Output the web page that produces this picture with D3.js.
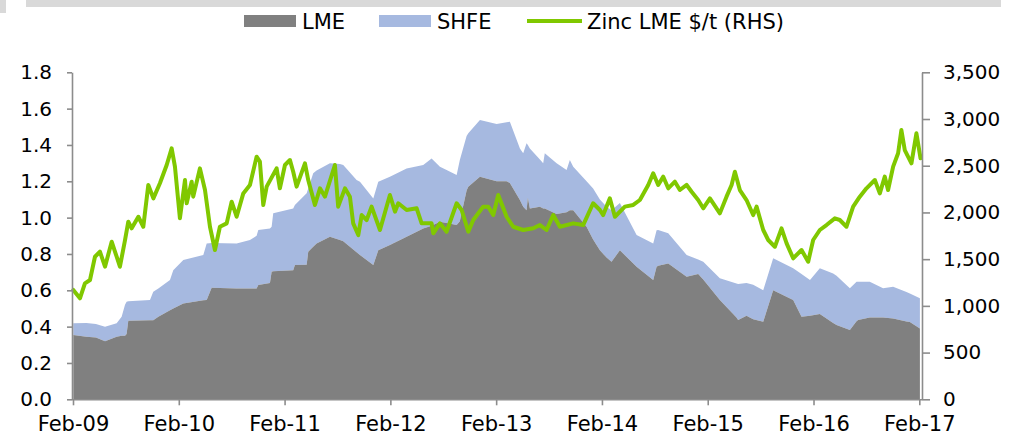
<!DOCTYPE html>
<html><head><meta charset="utf-8">
<script src="https://cdn.jsdelivr.net/npm/d3@7/dist/d3.min.js"></script>
<style>
html,body{margin:0;padding:0;background:#fff;}
svg{display:block;font-family:"DejaVu Sans",Verdana,sans-serif;}
</style></head>
<body><svg id="chart" width="1009" height="437"></svg>
<script>
// ---- data (dates as decimal years) ----
const xTickYears = [2009,2010,2011,2012,2013,2014,2015,2016,2017];
const xTickLabels = ["Feb-09","Feb-10","Feb-11","Feb-12","Feb-13","Feb-14","Feb-15","Feb-16","Feb-17"];
const leftTicks = [0,0.2,0.4,0.6,0.8,1.0,1.2,1.4,1.6,1.8];
const rightTicks = [0,500,1000,1500,2000,2500,3000,3500];
const seriesNames = ["LME","SHFE","Zinc LME $/t (RHS)"];

const areaDates = [2009.086,2009.21,2009.30,2009.386,2009.496,2009.543,2009.575,2009.59,2009.606,2009.811,
2009.842,2009.89,2010.0,2010.031,2010.126,2010.315,2010.347,2010.394,2010.63,2010.756,
2010.819,2010.835,2010.945,2010.961,2010.976,2011.165,2011.181,2011.292,2011.307,2011.354,
2011.386,2011.512,2011.607,2011.638,2011.764,2011.796,2011.922,2011.969,2012.079,2012.237,
2012.394,2012.473,2012.552,2012.615,2012.71,2012.74,2012.804,2012.82,2012.93,2013.088,
2013.182,2013.213,2013.308,2013.339,2013.371,2013.383,2013.402,2013.497,2013.528,2013.543,
2013.655,2013.749,2013.78,2013.812,2013.938,2014.0,2014.064,2014.127,2014.174,2014.253,
2014.411,2014.568,2014.6,2014.615,2014.71,2014.884,2014.993,2015.041,2015.198,2015.355,
2015.371,2015.45,2015.513,2015.608,2015.702,2015.891,2015.97,2016.05,2016.143,2016.269,
2016.301,2016.427,2016.49,2016.505,2016.615,2016.741,2016.836,2016.962,2016.994,2017.089];
const lmeRatio = [0.354,0.345,0.34,0.32,0.345,0.35,0.35,0.36,0.433,0.435,
0.435,0.455,0.49,0.50,0.528,0.545,0.546,0.614,0.61,0.61,
0.61,0.629,0.64,0.702,0.705,0.711,0.739,0.74,0.812,0.84,
0.858,0.895,0.877,0.87,0.81,0.794,0.739,0.82,0.85,0.895,
0.94,0.955,0.977,0.97,0.96,0.98,1.15,1.17,1.225,1.2,
1.2,1.19,1.097,1.06,1.04,1.11,1.05,1.06,1.05,1.05,
1.02,1.03,1.04,1.04,0.95,0.88,0.82,0.78,0.757,0.82,
0.73,0.657,0.73,0.735,0.748,0.675,0.69,0.66,0.546,0.45,
0.436,0.46,0.44,0.427,0.60,0.546,0.455,0.46,0.47,0.42,
0.409,0.381,0.43,0.436,0.45,0.45,0.445,0.428,0.425,0.39];
const shfeRatio = [0.064,0.075,0.075,0.08,0.073,0.105,0.17,0.177,0.107,0.111,
0.157,0.155,0.167,0.211,0.239,0.249,0.312,0.246,0.247,0.267,
0.29,0.303,0.30,0.248,0.319,0.339,0.331,0.394,0.348,0.404,
0.402,0.405,0.418,0.42,0.397,0.404,0.367,0.378,0.375,0.375,
0.35,0.371,0.303,0.292,0.274,0.337,0.30,0.294,0.312,0.315,
0.325,0.338,0.283,0.294,0.369,0.29,0.33,0.26,0.25,0.304,
0.28,0.232,0.277,0.24,0.25,0.281,0.28,0.28,0.283,0.26,
0.174,0.201,0.20,0.197,0.166,0.119,0.08,0.097,0.12,0.188,
0.199,0.18,0.19,0.173,0.176,0.175,0.235,0.197,0.251,0.273,
0.271,0.23,0.217,0.211,0.197,0.161,0.175,0.162,0.158,0.166];

const lineDates = [2009.086,2009.149,2009.196,2009.244,2009.291,2009.338,2009.386,2009.449,2009.496,2009.527,
2009.575,2009.606,2009.638,2009.701,2009.748,2009.795,2009.843,2009.905,2009.969,2010.016,
2010.047,2010.094,2010.142,2010.158,2010.205,2010.22,2010.283,2010.331,2010.378,2010.425,
2010.472,2010.536,2010.583,2010.63,2010.693,2010.756,2010.819,2010.85,2010.882,2010.914,
2011.008,2011.039,2011.087,2011.134,2011.165,2011.197,2011.276,2011.307,2011.37,2011.418,
2011.465,2011.559,2011.59,2011.654,2011.701,2011.732,2011.78,2011.812,2011.859,2011.906,
2011.985,2012.079,2012.127,2012.158,2012.237,2012.332,2012.379,2012.473,2012.489,2012.552,
2012.615,2012.71,2012.757,2012.82,2012.867,2012.961,2013.008,2013.056,2013.103,2013.182,
2013.245,2013.339,2013.434,2013.497,2013.56,2013.623,2013.686,2013.812,2013.906,2014.0,
2014.064,2014.095,2014.158,2014.206,2014.3,2014.379,2014.442,2014.521,2014.568,2014.615,
2014.663,2014.71,2014.773,2014.82,2014.884,2014.931,2014.993,2015.041,2015.104,2015.198,
2015.261,2015.309,2015.34,2015.387,2015.45,2015.513,2015.545,2015.608,2015.655,2015.718,
2015.781,2015.829,2015.891,2015.97,2016.033,2016.08,2016.143,2016.206,2016.285,2016.332,
2016.395,2016.458,2016.521,2016.584,2016.663,2016.71,2016.757,2016.788,2016.836,2016.883,
2016.914,2016.946,2017.009,2017.056,2017.095];
const zincPrice = [1170,1081,1241,1277,1526,1580,1419,1687,1526,1419,
1705,1901,1830,1954,1847,2294,2151,2312,2508,2686,
2490,1937,2347,2098,2329,2169,2472,2240,1847,1598,
1847,1883,2115,1954,2204,2294,2597,2543,2080,2276,
2472,2258,2508,2561,2436,2276,2526,2347,2080,2258,
2169,2508,2062,2258,2169,1883,1758,1972,1919,2062,
1812,2187,2008,2098,2026,2044,1883,1883,1777,1883,
1794,2098,2026,1794,1919,2062,2062,1972,2187,1954,
1847,1812,1830,1865,1812,1972,1847,1883,1865,2098,
2026,1972,2151,1954,2062,2080,2133,2294,2419,2294,
2383,2258,2329,2240,2294,2222,2133,2044,2151,1990,
2169,2294,2436,2240,2133,1972,2062,1812,1705,1633,
1830,1669,1509,1598,1473,1705,1812,1865,1937,1919,
1847,2062,2169,2258,2347,2204,2383,2240,2490,2633,
2882,2668,2526,2847,2579];

// ---- chart ----
const svg = d3.select("#chart");
const colors = {lme:"#808080", shfe:"#a6b9e0", zinc:"#80c800", axis:"#8c8c8c"};

// top banner remnants
svg.append("rect").attr("x",0).attr("y",0).attr("width",6).attr("height",13).attr("fill","#d9d9d9");
svg.append("rect").attr("x",26).attr("y",0).attr("width",975).attr("height",7).attr("fill","#d9d9d9");

const x = d3.scaleLinear().domain([2009.0833, 2017.0833]).range([73, 919.3]);
const yL = d3.scaleLinear().domain([0,1.8]).range([399.3, 72.3]);
const yR = d3.scaleLinear().domain([0,3500]).range([399.3, 72.3]);

const rows = areaDates.map((d,i)=>({t:d, LME:lmeRatio[i], SHFE:shfeRatio[i]}));
const stacked = d3.stack().keys(["LME","SHFE"])(rows);
const area = d3.area().x(d=>x(d.data.t)).y0(d=>yL(d[0])).y1(d=>yL(d[1]));
svg.append("path").datum(stacked[1]).attr("d",area).attr("fill",colors.shfe);
svg.append("path").datum(stacked[0]).attr("d",area).attr("fill",colors.lme);

const line = d3.line().x((d,i)=>x(lineDates[i])).y(d=>yR(d)).curve(d3.curveLinear);
svg.append("path").datum(zincPrice).attr("d",line).attr("fill","none")
  .attr("stroke",colors.zinc).attr("stroke-width",4).attr("stroke-linejoin","round").attr("stroke-linecap","round");

// axes
function styleAxis(g, fs){
  g.selectAll(".domain").attr("stroke",colors.axis).attr("stroke-width",1.6);
  g.selectAll(".tick line").attr("stroke",colors.axis).attr("stroke-width",1.6);
  g.selectAll("text").attr("fill","#000").style("font-size",fs).style("font-family","'DejaVu Sans',Verdana,sans-serif");
}
const gL = svg.append("g").attr("transform","translate(72,0)")
  .call(d3.axisLeft(yL).tickValues(leftTicks).tickFormat(d3.format(".1f")).tickSize(5).tickPadding(15).tickSizeOuter(0));
styleAxis(gL,"20px");
const gR = svg.append("g").attr("transform","translate(922,0)")
  .call(d3.axisRight(yR).tickValues(rightTicks).tickFormat(d3.format(",")).tickSize(8).tickPadding(13).tickSizeOuter(0));
styleAxis(gR,"20px");
const gB = svg.append("g").attr("transform","translate(0,399.3)")
  .call(d3.axisBottom(x).tickValues(xTickYears.map(y=>y+1/12)).tickFormat((d,i)=>xTickLabels[i]).tickSize(6).tickPadding(11).tickSizeOuter(0));
styleAxis(gB,"21px");
gB.select(".domain").attr("d","M72,0.5H922");

// legend
const lg = svg.append("g");
lg.append("rect").attr("x",244).attr("y",15).attr("width",52).attr("height",12).attr("fill",colors.lme);
lg.append("text").attr("x",302).attr("y",29).text(seriesNames[0]);
lg.append("rect").attr("x",379).attr("y",15).attr("width",52).attr("height",12).attr("fill",colors.shfe);
lg.append("text").attr("x",437).attr("y",29).text(seriesNames[1]);
lg.append("line").attr("x1",527).attr("x2",582).attr("y1",21).attr("y2",21).attr("stroke",colors.zinc).attr("stroke-width",4);
lg.append("text").attr("x",587).attr("y",29).text(seriesNames[2]);
lg.selectAll("text").attr("fill","#000").style("font-size","21px");
</script></body></html>
